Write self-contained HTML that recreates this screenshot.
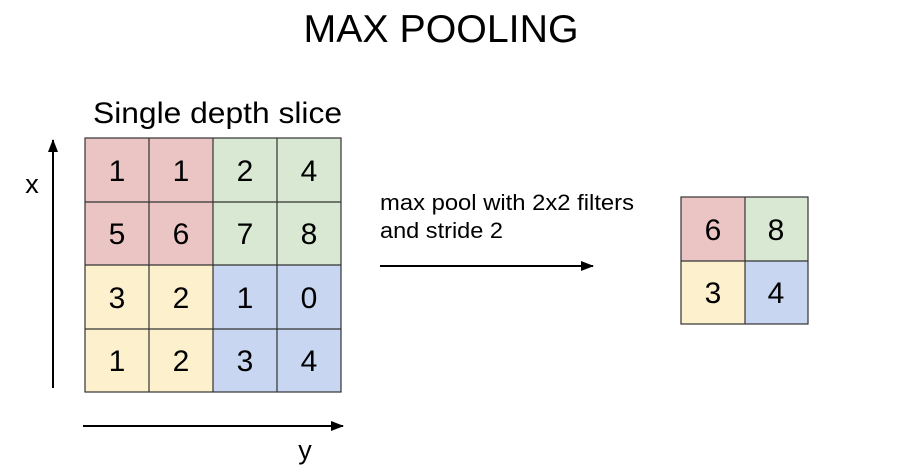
<!DOCTYPE html>
<html><head><meta charset="utf-8"><style>body{margin:0;background:#fff}svg{display:block}</style></head>
<body>
<svg width="911" height="468" xmlns="http://www.w3.org/2000/svg" font-family="Liberation Sans, Arial, sans-serif">
<defs><marker id="a" markerWidth="13" markerHeight="10" refX="12" refY="5" orient="auto" markerUnits="userSpaceOnUse"><path d="M0,0 L13,5 L0,10 z" fill="#000"/></marker></defs>
<text x="441" y="42" font-size="39" text-anchor="middle" textLength="275" lengthAdjust="spacingAndGlyphs">MAX POOLING</text>
<text x="93" y="123" font-size="30" textLength="249" lengthAdjust="spacingAndGlyphs">Single depth slice</text>
<rect x="85" y="138" width="128" height="127" fill="#eac5c4"/>
<rect x="213" y="138" width="128" height="127" fill="#d9e8d3"/>
<rect x="85" y="265" width="128" height="127" fill="#fcf1cc"/>
<rect x="213" y="265" width="128" height="127" fill="#c8d6f2"/>
<g stroke="#333" stroke-width="1.2" fill="none">
<rect x="85" y="138" width="256" height="254"/>
<line x1="149" y1="138" x2="149" y2="392"/><line x1="213" y1="138" x2="213" y2="392"/><line x1="277" y1="138" x2="277" y2="392"/>
<line x1="85" y1="202" x2="341" y2="202"/><line x1="85" y1="265" x2="341" y2="265"/><line x1="85" y1="329" x2="341" y2="329"/>
</g>
<g font-size="30" text-anchor="middle">
<text x="117" y="181">1</text><text x="181" y="181">1</text><text x="245" y="181">2</text><text x="309" y="181">4</text>
<text x="117" y="244">5</text><text x="181" y="244">6</text><text x="245" y="244">7</text><text x="309" y="244">8</text>
<text x="117" y="308">3</text><text x="181" y="308">2</text><text x="245" y="308">1</text><text x="309" y="308">0</text>
<text x="117" y="371">1</text><text x="181" y="371">2</text><text x="245" y="371">3</text><text x="309" y="371">4</text>
</g>
<line x1="53" y1="388" x2="53" y2="140" stroke="#000" stroke-width="2" marker-end="url(#a)"/>
<line x1="83" y1="426" x2="343" y2="426" stroke="#000" stroke-width="2" marker-end="url(#a)"/>
<text x="32" y="193" font-size="27" text-anchor="middle">x</text>
<text x="305" y="459" font-size="27" text-anchor="middle">y</text>
<text x="380" y="210" font-size="22" textLength="254" lengthAdjust="spacingAndGlyphs">max pool with 2x2 filters</text>
<text x="380" y="238" font-size="22" textLength="123" lengthAdjust="spacingAndGlyphs">and stride 2</text>
<line x1="380" y1="266" x2="593" y2="266" stroke="#000" stroke-width="2" marker-end="url(#a)"/>
<rect x="681" y="197" width="64" height="64" fill="#eac5c4"/>
<rect x="745" y="197" width="63" height="64" fill="#d9e8d3"/>
<rect x="681" y="261" width="64" height="63" fill="#fcf1cc"/>
<rect x="745" y="261" width="63" height="63" fill="#c8d6f2"/>
<g stroke="#333" stroke-width="1.2" fill="none">
<rect x="681" y="197" width="127" height="127"/>
<line x1="745" y1="197" x2="745" y2="324"/><line x1="681" y1="261" x2="808" y2="261"/>
</g>
<g font-size="30" text-anchor="middle">
<text x="713" y="240">6</text><text x="776" y="240">8</text>
<text x="713" y="303">3</text><text x="776" y="303">4</text>
</g>
</svg>
</body></html>
